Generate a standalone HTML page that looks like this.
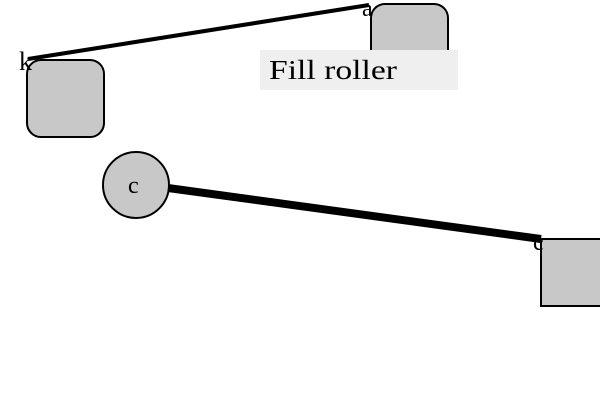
<!DOCTYPE html>
<html><head><style>body{margin:0;background:#fff}svg{display:block}</style></head><body>
<svg width="600" height="400" viewBox="0 0 600 400" xmlns="http://www.w3.org/2000/svg" font-family="Liberation Serif, serif">
<rect x="371" y="4" width="77" height="80" rx="14" fill="#c8c8c8" stroke="#000" stroke-width="2"/>
<rect x="27" y="60" width="77" height="77" rx="14" fill="#c8c8c8" stroke="#000" stroke-width="2"/>
<ellipse cx="136" cy="185" rx="33" ry="33" fill="#c8c8c8" stroke="#000" stroke-width="2"/>
<rect x="541" y="239" width="70" height="67" fill="#c8c8c8" stroke="#000" stroke-width="2"/>
<line x1="28" y1="59" x2="369" y2="5" stroke="#000" stroke-width="4"/>
<line x1="168" y1="188" x2="541" y2="239" stroke="#000" stroke-width="8"/>
<text x="19" y="70" font-size="26">k</text>
<text x="362" y="16" font-size="24">a</text>
<text x="128" y="193" font-size="24">c</text>
<text x="533" y="250" font-size="24">c</text>
<rect x="260" y="50" width="198" height="40" fill="#efefef"/>
<text x="269" y="79" font-size="27" textLength="128" lengthAdjust="spacingAndGlyphs">Fill roller</text>
</svg>
</body></html>
